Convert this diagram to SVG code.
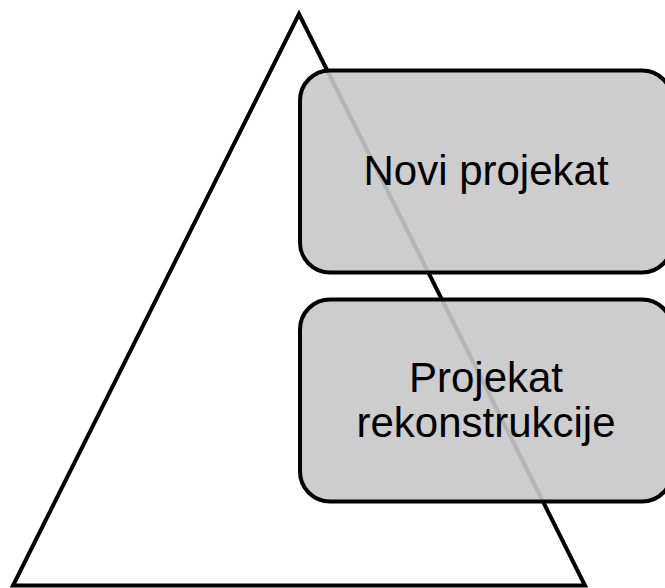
<svg xmlns="http://www.w3.org/2000/svg" width="665" height="588" viewBox="0 0 665 588">
  <style>
    .box { fill: #c8c8c8; fill-opacity: 0.9; stroke: #000000; stroke-width: 4; }
    .tri { fill: none; stroke: #000000; stroke-width: 4; stroke-linejoin: miter; }
    .lbl { font-family: "Liberation Sans", Arial, sans-serif; font-size: 42px; fill: #000000; text-anchor: middle; }
  </style>
  <rect width="665" height="588" fill="#ffffff"/>
  <g id="pyramid">
    <polygon class="tri" points="299,14 13,585.5 585,585.5"/>
  </g>
  <g id="connectors"></g>
  <g id="novi-projekat">
    <rect class="box" x="300" y="70.5" width="372" height="202" rx="30" ry="30"/>
    <text class="lbl" x="486" y="185">Novi projekat</text>
  </g>
  <g id="projekat-rekonstrukcije">
    <rect class="box" x="300" y="299.5" width="372" height="202" rx="30" ry="30"/>
    <text class="lbl" x="486" y="392">Projekat</text>
    <text class="lbl" x="486" y="437">rekonstrukcije</text>
  </g>
</svg>
